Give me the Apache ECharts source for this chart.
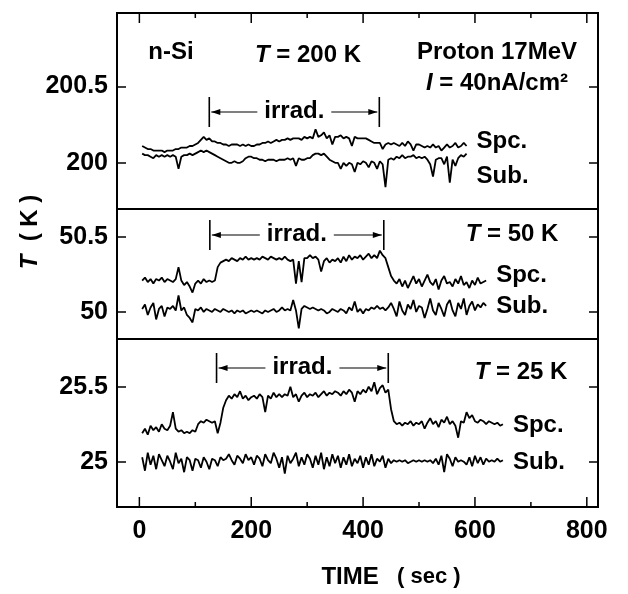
<!DOCTYPE html>
<html><head><meta charset="utf-8">
<script src="https://cdn.jsdelivr.net/npm/echarts@6/dist/echarts.min.js"></script>
<style>html,body{margin:0;padding:0;background:#fff}#c{width:628px;height:594px}</style>
</head><body><div id="c"></div>
<script>
// sample times (sec)
const timeSec = [5,10,15,20,25,30,35,40,45,50,55,60,65,70,75,80,85,90,95,100,
105,110,115,120,125,130,135,140,145,150,155,160,165,170,175,180,185,190,195,200,
205,210,215,220,225,230,235,240,245,250,255,260,265,270,275,280,285,290,295,300,
305,310,315,320,325,330,335,340,345,350,355,360,365,370,375,380,385,390,395,400,
405,410,415,420,425,430,435,440,445,450,455,460,465,470,475,480,485,490,495,500,
505,510,515,520,525,530,535,540,545,550,555,560,565,570,575,580,585,590,595,600,
605,610,615,620,625,630,635,640,645,650];

// T = 200 K panel
const spc200 = [200.11,200.10,200.09,200.09,200.08,200.08,200.08,200.08,200.07,200.08,
200.08,200.08,200.09,200.09,200.10,200.10,200.10,200.11,200.11,200.12,
200.13,200.15,200.17,200.15,200.16,200.14,200.14,200.13,200.13,200.12,
200.12,200.11,200.12,200.12,200.12,200.11,200.12,200.11,200.12,200.11,
200.11,200.12,200.12,200.13,200.13,200.14,200.13,200.14,200.15,200.14,
200.15,200.15,200.16,200.15,200.16,200.16,200.16,200.15,200.17,200.16,
200.17,200.16,200.22,200.17,200.18,200.20,200.16,200.18,200.12,200.17,
200.17,200.18,200.16,200.17,200.16,200.11,200.17,200.16,200.16,200.16,
200.16,200.15,200.14,200.13,200.13,200.13,200.09,200.12,200.13,200.12,
200.13,200.12,200.11,200.13,200.11,200.14,200.12,200.08,200.12,200.12,
200.11,200.10,200.11,200.10,200.12,200.10,200.11,200.08,200.10,200.12,
200.10,200.11,200.13,200.10,200.11,200.13,200.11];
const sub200 = [200.06,200.05,200.05,200.04,200.03,200.05,200.04,200.05,200.04,200.05,
200.04,200.05,200.04,199.96,200.04,200.05,200.05,200.06,200.05,200.06,
200.07,200.08,200.07,200.08,200.07,200.06,200.05,200.04,200.03,200.02,
200.01,200.00,200.00,200.01,200.00,200.00,200.01,200.03,200.04,200.04,
200.03,200.03,200.02,200.02,200.01,200.02,200.02,200.02,200.01,200.02,
200.02,200.02,200.03,200.02,200.03,199.98,200.03,200.02,200.02,200.03,
200.03,200.05,200.06,200.06,200.05,200.06,200.04,200.02,200.01,200.00,
200.00,199.96,200.00,199.98,200.00,199.99,199.94,200.00,199.99,200.01,
200.00,199.97,200.01,200.00,199.96,200.01,199.99,199.84,200.02,200.03,
200.02,200.04,200.03,200.05,200.03,200.04,200.04,200.05,200.03,200.04,
200.03,200.04,200.02,199.99,199.91,200.02,200.03,200.03,199.99,200.04,
199.87,200.02,199.98,200.03,200.05,200.04,200.06];

// T = 50 K panel
const spc50 = [50.21,50.23,50.20,50.22,50.19,50.22,50.21,50.23,50.20,50.22,
50.21,50.20,50.22,50.30,50.21,50.18,50.20,50.17,50.13,50.19,
50.21,50.19,50.22,50.20,50.21,50.20,50.21,50.30,50.33,50.34,
50.35,50.34,50.36,50.35,50.34,50.36,50.35,50.37,50.35,50.36,
50.35,50.36,50.35,50.37,50.36,50.35,50.37,50.36,50.35,50.36,
50.35,50.37,50.35,50.34,50.35,50.19,50.34,50.20,50.36,50.36,
50.38,50.36,50.37,50.35,50.27,50.34,50.36,50.33,50.35,50.34,
50.36,50.33,50.37,50.34,50.38,50.35,50.37,50.36,50.38,50.35,
50.37,50.39,50.36,50.38,50.36,50.41,50.38,50.36,50.30,50.24,
50.21,50.19,50.22,50.17,50.21,50.16,50.20,50.24,50.19,50.22,
50.17,50.21,50.25,50.20,50.18,50.22,50.15,50.21,50.24,50.19,
50.20,50.17,50.22,50.19,50.24,50.18,50.20,50.16,50.21,50.18,
50.23,50.19,50.20,50.21];
const sub50 = [50.02,50.05,49.98,50.03,50.06,49.95,50.02,50.04,49.97,50.03,
50.02,50.04,50.01,50.11,50.01,50.03,49.98,49.96,49.93,50.02,
50.01,50.03,50.00,50.02,50.01,50.00,50.02,50.01,50.00,50.02,
50.01,50.00,50.01,49.99,50.01,50.00,50.01,49.99,50.00,50.01,
50.00,50.01,50.00,49.99,50.01,50.00,50.01,50.02,50.00,50.01,
50.03,50.01,50.02,50.01,50.08,50.01,49.89,50.02,50.04,50.03,
50.02,50.03,50.02,50.01,50.02,50.01,49.99,50.00,50.02,50.01,
50.00,50.02,50.01,49.99,50.03,50.01,50.07,50.00,50.02,49.99,
50.02,50.01,50.03,50.02,50.04,50.02,50.03,50.01,50.03,50.06,
50.02,49.97,50.07,50.01,49.98,50.05,50.02,50.08,50.00,50.04,
50.03,49.96,50.02,50.09,50.01,49.98,50.06,50.02,49.97,50.05,
50.08,50.01,49.97,50.06,50.02,50.09,49.98,50.04,50.07,50.01,
50.05,50.03,50.06,50.04];

// T = 25 K panel
const spc25 = [25.19,25.22,25.18,25.24,25.21,25.23,25.20,25.25,25.22,25.21,
25.24,25.33,25.22,25.20,25.21,25.19,25.20,25.19,25.21,25.20,
25.25,25.27,25.26,25.28,25.27,25.26,25.27,25.19,25.26,25.36,
25.41,25.44,25.42,25.45,25.43,25.47,25.42,25.44,25.41,25.43,
25.44,25.42,25.45,25.43,25.33,25.44,25.42,25.46,25.43,25.45,
25.43,25.45,25.44,25.50,25.43,25.45,25.40,25.44,25.46,25.43,
25.45,25.44,25.46,25.43,25.45,25.47,25.44,25.46,25.45,25.47,
25.46,25.44,25.47,25.45,25.48,25.46,25.40,25.47,25.45,25.48,
25.46,25.50,25.47,25.53,25.45,25.49,25.51,25.46,25.48,25.35,
25.27,25.25,25.26,25.24,25.26,25.25,25.27,25.24,25.26,25.25,
25.27,25.22,25.26,25.29,25.25,25.27,25.23,25.28,25.26,25.30,
25.25,25.27,25.24,25.16,25.27,25.26,25.33,25.29,25.31,25.27,
25.26,25.28,25.27,25.25,25.27,25.26,25.25,25.26,25.24,25.25];
const sub25 = [25.03,24.94,25.06,24.98,25.04,24.95,25.05,25.01,24.97,25.04,
25.00,24.95,25.06,24.99,25.02,24.93,25.03,25.01,24.94,25.02,
25.01,24.96,25.03,25.00,24.95,25.02,25.01,24.97,25.03,25.01,
25.02,25.05,25.01,24.98,25.04,25.02,24.99,25.05,25.01,25.03,
24.98,25.04,25.02,24.97,25.05,25.01,24.99,25.06,25.02,24.96,
25.03,24.92,25.04,24.99,25.02,25.06,24.97,25.03,24.98,25.05,
25.02,24.96,25.04,24.98,25.06,24.95,25.03,24.97,25.05,24.99,
25.04,24.96,25.03,24.98,25.05,24.97,25.02,24.99,25.04,24.96,
25.03,24.98,25.05,24.97,25.02,25.00,25.04,24.96,25.02,24.99,
25.01,25.00,25.01,25.00,25.01,24.99,25.00,25.01,25.00,25.01,
25.00,25.01,25.00,25.01,24.99,25.02,24.98,25.04,24.93,25.05,
25.02,24.97,25.03,25.00,25.01,25.00,24.98,25.03,24.97,25.04,
24.99,25.03,24.98,25.02,25.00,25.01,25.00,25.02,25.00,25.01];

// axis ticks / ranges
const xRange = [-40, 820];
const xMajorTicks = [0,200,400,600,800];
const xMinorTicks = [100,300,500,700];
const yTicks = [[200,200.5],[50,50.5],[25,25.5]];
const yRanges = [[199.697,200.982],[49.819,50.689],[24.698,25.818]];
const panelTitles = ['200 K','50 K','25 K'];
const irradStart = [125,126,138];
const irradEnd = [429,437,445];

const FONT = '"Liberation Sans", Arial, sans-serif';
const chart = echarts.init(document.getElementById('c'), null, {renderer:'canvas'});

const panels = [{top:13, height:196},{top:209, height:130},{top:339, height:168}];
const grids = panels.map(p => ({left:117, right:30, top:p.top, height:p.height, show:true, borderColor:'#000', borderWidth:2, backgroundColor:'transparent'}));

const blackLine = {show:true, onZero:false, lineStyle:{color:'#000', width:2}};
const noLine = {show:false, onZero:false};
const tickStyle = {color:'#000', width:1.5};

const xAxes = [0,1,2].map(i => ({type:'value', gridIndex:i, min:xRange[0], max:xRange[1], position:'bottom',
  axisLine:noLine, axisTick:{show:false}, splitLine:{show:false},
  axisLabel: i===2 ? {show:true, customValues:xMajorTicks, margin:12, color:'#000', fontFamily:FONT, fontWeight:'bold', fontSize:25} : {show:false}}));

const yAxes = [];
for (let i=0;i<3;i++){
  yAxes.push({type:'value', gridIndex:i, position:'left', min:yRanges[i][0], max:yRanges[i][1],
    splitLine:{show:false}, axisLine:blackLine,
    axisTick:{show:true, inside:true, length:9, customValues:yTicks[i], lineStyle:tickStyle},
    axisLabel:{show:true, customValues:yTicks[i], margin:9, color:'#000', fontFamily:FONT, fontWeight:'bold', fontSize:25}});
  yAxes.push({type:'value', gridIndex:i, position:'right', min:yRanges[i][0], max:yRanges[i][1],
    splitLine:{show:false}, axisLine:blackLine,
    axisTick:{show:true, inside:true, length:9, customValues:yTicks[i], lineStyle:tickStyle},
    axisLabel:{show:false}});
}

function mk(arr){ return arr.map((v,i)=>[timeSec[i], v]); }
const seriesSets = [[spc200, sub200],[spc50, sub50],[spc25, sub25]];
const series = [];
seriesSets.forEach((pair,i)=>{
  pair.forEach((arr,k)=>{
    series.push({type:'line', name:(k===0?'Spc.':'Sub.')+' '+panelTitles[i], xAxisIndex:i, yAxisIndex:2*i,
      data:mk(arr), symbol:'none', silent:true, animation:false,
      lineStyle:{color:'#000', width:1.8}});
  });
});

chart.setOption({animation:false, backgroundColor:'#fff', grid:grids, xAxis:xAxes, yAxis:yAxes, series:series});

const g = [];
// time-axis tick marks (top of first panel, bottom of last panel), positioned through the x scale
const topY = panels[0].top, botY = panels[2].top + panels[2].height;
function tick(axisIdx, t, len){
  const x = chart.convertToPixel({xAxisIndex:axisIdx}, t);
  g.push({type:'line', silent:true, shape:{x1:x, y1:topY, x2:x, y2:topY+len}, style:{stroke:'#000', lineWidth:1.5}});
  g.push({type:'line', silent:true, shape:{x1:x, y1:botY, x2:x, y2:botY-len}, style:{stroke:'#000', lineWidth:1.5}});
}
xMajorTicks.forEach(t => tick(2, t, 10));
xMinorTicks.forEach(t => tick(2, t, 5));

function txt(x,y,text,align,extra){
  g.push({type:'text', x:x, y:y, silent:true, style:Object.assign({text:text, fill:'#000', font:'bold 24px '+FONT, textAlign:align||'left', textVerticalAlign:'middle'}, extra||{})});
}
const rich = {
  i:{fontStyle:'italic', fontWeight:'bold', fontSize:24, fontFamily:FONT, fill:'#000'},
  n:{fontWeight:'bold', fontSize:24, fontFamily:FONT, fill:'#000'}
};
txt(171,52,'n-Si','center');
g.push({type:'text', x:308, y:55, silent:true, style:{text:'{i|T}{n| = 200 K}', rich:rich, textAlign:'center', textVerticalAlign:'middle'}});
txt(497,52,'Proton 17MeV','center');
g.push({type:'text', x:497, y:83, silent:true, style:{text:'{i|I}{n| = 40nA/cm²}', rich:rich, textAlign:'center', textVerticalAlign:'middle'}});
g.push({type:'text', x:512, y:234, silent:true, style:{text:'{i|T}{n| = 50 K}', rich:rich, textAlign:'center', textVerticalAlign:'middle'}});
g.push({type:'text', x:521, y:372, silent:true, style:{text:'{i|T}{n| = 25 K}', rich:rich, textAlign:'center', textVerticalAlign:'middle'}});

// Spc./Sub. labels placed just after the end of each trace
const labelY = [[141,176],[275,306],[425,462]];
seriesSets.forEach((pair,i)=>{
  const lastT = timeSec[pair[0].length-1];
  const px = chart.convertToPixel({xAxisIndex:i}, lastT);
  txt(px+10, labelY[i][0], 'Spc.');
  txt(px+10, labelY[i][1], 'Sub.');
});

// irradiation brackets
const bracketY = [112,235,368];
for (let i=0;i<3;i++){
  const x1 = chart.convertToPixel({xAxisIndex:i}, irradStart[i]);
  const x2 = chart.convertToPixel({xAxisIndex:i}, irradEnd[i]);
  const y = bracketY[i];
  const mid = (x1+x2)/2;
  const ls = {stroke:'#000', lineWidth:1.6};
  g.push({type:'line', silent:true, shape:{x1:x1,y1:y-15,x2:x1,y2:y+15}, style:ls});
  g.push({type:'line', silent:true, shape:{x1:x2,y1:y-15,x2:x2,y2:y+15}, style:ls});
  g.push({type:'line', silent:true, shape:{x1:x1+2,y1:y,x2:mid-37,y2:y}, style:{stroke:'#000', lineWidth:1.2}});
  g.push({type:'line', silent:true, shape:{x1:mid+37,y1:y,x2:x2-2,y2:y}, style:{stroke:'#000', lineWidth:1.2}});
  g.push({type:'polygon', silent:true, shape:{points:[[x1+2,y],[x1+11,y-3],[x1+11,y+3]]}, style:{fill:'#000'}});
  g.push({type:'polygon', silent:true, shape:{points:[[x2-2,y],[x2-11,y-3],[x2-11,y+3]]}, style:{fill:'#000'}});
  txt(mid, y-1, 'irrad.', 'center');
}

// axis titles
g.push({type:'text', x:30, y:232, rotation:Math.PI/2, silent:true,
  style:{text:'{i|T}{n|  ( K )}', rich:rich, textAlign:'center', textVerticalAlign:'middle'}});
g.push({type:'text', x:391, y:577, silent:true,
  style:{text:'{n|TIME}{s|   ( sec )}', rich:{n:rich.n, s:{fontWeight:'bold', fontSize:22, fontFamily:FONT, fill:'#000'}}, textAlign:'center', textVerticalAlign:'middle'}});

chart.setOption({graphic:g});
</script>
</body></html>
